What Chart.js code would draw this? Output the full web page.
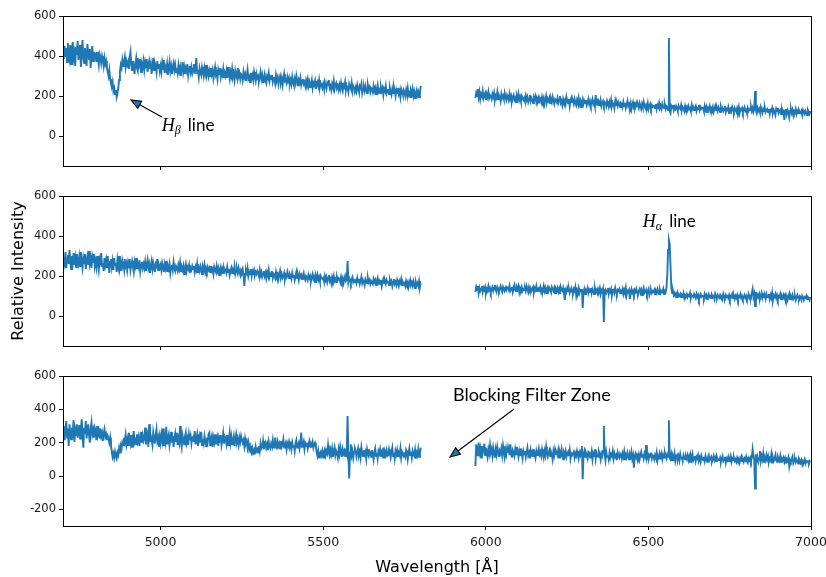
<!DOCTYPE html>
<html>
<head>
<meta charset="utf-8">
<script src="https://cdn.jsdelivr.net/npm/chart.js@4.4.1/dist/chart.umd.min.js"></script>
<style>
  body { margin: 0; background: #fff; }
  #wrap { position: relative; width: 826px; height: 577px; }
  canvas { position: absolute; left: 0; }
</style>
</head>
<body>
<div id="wrap">
  <canvas id="specTop" width="826" height="180" style="top:0"></canvas>
  <canvas id="specMid" width="826" height="180" style="top:180px"></canvas>
  <canvas id="specBot" width="826" height="217" style="top:360px"></canvas>
</div>
<script>
const LINE_CLR = '#1f77b4';

// wavelength sampling of the two spectrograph segments (blue arm / red arm), one row = 50 Å
const BLUE_START = 4700, RED_START = 5968, STEP = 2.5;
const X_TICKS = [5000, 5500, 6000, 6500, 7000];
const Y_TICKS = [0, 200, 400, 600];
const Y_TICKS_BOT = [-200, 0, 200, 400, 600];

// --- spectrum 1 ---
const TOP_BLUE = [
  425, 385, 450, 395, 440, 370, 465, 400, 380, 455, 360, 430, 470, 390, 415, 350, 445, 405, 475, 380,
  420, 455, 345, 410, 480, 390, 365, 440, 400, 350, 460, 415, 385, 435, 340, 405, 450, 375, 420, 395,
  405, 370, 420, 385, 355, 410, 395, 365, 400, 380, 350, 390, 360, 375, 340, 320, 300, 330, 285, 265,
  250, 270, 225, 240, 210, 230, 195, 215, 240, 280, 320, 355, 340, 380, 350, 370, 395, 345, 375, 355,
  370, 335, 395, 420, 350, 330, 375, 345, 310, 365, 390, 340, 325, 370, 355, 385, 320, 360, 345, 375,
  330, 365, 340, 385, 320, 355, 375, 335, 360, 310, 345, 390, 330, 365, 350, 320, 375, 340, 360, 325,
  350, 320, 365, 335, 380, 315, 345, 330, 360, 305, 340, 370, 325, 350, 310, 345, 365, 330, 355, 320,
  340, 315, 355, 325, 345, 300, 335, 370, 320, 345, 310, 340, 325, 360, 305, 335, 350, 320, 345, 315,
  335, 360, 310, 345, 390, 315, 330, 295, 340, 320, 305, 345, 325, 300, 340, 315, 355, 310, 330, 300,
  325, 300, 340, 310, 330, 290, 320, 345, 305, 315, 285, 330, 310, 340, 295, 320, 305, 335, 290, 315,
  300, 325, 290, 345, 310, 285, 320, 300, 335, 295, 310, 280, 325, 305, 290, 340, 300, 315, 285, 310,
  305, 280, 320, 295, 310, 275, 300, 330, 285, 295, 270, 315, 290, 305, 280, 320, 295, 275, 310, 290,
  300, 275, 295, 320, 285, 305, 270, 290, 310, 280, 265, 300, 290, 315, 275, 295, 285, 305, 270, 290,
  290, 265, 305, 280, 295, 260, 285, 300, 270, 290, 255, 285, 310, 275, 280, 265, 295, 275, 290, 260,
  280, 260, 295, 270, 255, 285, 265, 300, 275, 250, 280, 265, 290, 255, 275, 285, 260, 270, 250, 280,
  265, 285, 250, 270, 245, 260, 280, 240, 265, 255, 275, 235, 260, 270, 250, 280, 245, 265, 255, 240,
  260, 240, 270, 250, 235, 265, 255, 280, 240, 250, 230, 260, 245, 275, 235, 255, 265, 240, 250, 230,
  255, 235, 265, 240, 225, 255, 245, 270, 230, 250, 240, 220, 260, 245, 235, 265, 225, 250, 240, 230,
  245, 225, 255, 235, 220, 250, 240, 260, 215, 235, 245, 225, 250, 230, 215, 255, 235, 245, 220, 240,
  235, 220, 250, 225, 240, 210, 235, 255, 220, 230, 215, 245, 225, 240, 205, 235, 225, 250, 215, 230,
  230, 210, 240, 220, 205, 235, 215, 245, 225, 200, 230, 215, 240, 210, 225, 195, 235, 220, 205, 230,
  220, 200, 230, 210, 240, 205, 215, 195, 225, 210, 235, 200, 220, 190, 215, 230, 205, 220, 195, 215,
  250
];
const TOP_RED = [
  190, 215, 200, 235, 195, 220, 185, 210, 200, 225, 190, 205, 215, 180, 210, 195, 220, 190, 205, 200,
  185, 210, 195, 215, 180, 200, 190, 220, 185, 205, 195, 175, 210, 190, 200, 185, 215, 195, 180, 205,
  195, 180, 210, 185, 200, 175, 195, 205, 180, 190, 170, 200, 185, 210, 180, 195, 175, 200, 190, 180,
  190, 175, 200, 180, 195, 170, 185, 205, 175, 190, 180, 165, 195, 185, 200, 170, 190, 180, 195, 175,
  185, 170, 195, 175, 190, 160, 180, 200, 170, 185, 175, 190, 165, 185, 170, 195, 175, 160, 185, 180,
  170, 190, 165, 180, 200, 165, 175, 155, 185, 170, 180, 160, 195, 175, 165, 185, 150, 175, 190, 170,
  175, 160, 185, 170, 155, 180, 165, 190, 160, 175, 145, 170, 185, 160, 175, 165, 180, 155, 170, 185,
  160, 175, 155, 170, 185, 160, 170, 150, 205, 165, 175, 155, 170, 160, 180, 150, 165, 175, 155, 170,
  165, 150, 175, 160, 145, 170, 155, 180, 150, 165, 160, 140, 175, 155, 165, 150, 170, 160, 145, 165,
  160, 145, 170, 150, 165, 140, 155, 175, 150, 160, 145, 165, 135, 155, 170, 150, 160, 145, 165, 150,
  155, 140, 165, 150, 135, 160, 145, 170, 150, 140, 155, 145, 165, 135, 150, 160, 140, 155, 145, 150,
  150, 140, 160, 135, 155, 145, 165, 140, 150, 135, 160, 145, 140, 155, 135, 150, 145, 130, 490, 125,
  115, 150, 140, 155, 130, 145, 135, 150, 140, 125, 150, 140, 135, 155, 130, 145, 140, 125, 150, 135,
  145, 130, 150, 135, 140, 125, 155, 135, 145, 130, 140, 150, 125, 140, 135, 155, 130, 145, 135, 140,
  140, 125, 150, 130, 145, 120, 140, 135, 150, 125, 140, 130, 145, 120, 135, 150, 130, 140, 125, 145,
  135, 120, 145, 130, 140, 125, 135, 150, 120, 135, 130, 145, 115, 135, 140, 125, 145, 130, 120, 140,
  130, 120, 140, 125, 145, 115, 135, 130, 140, 120, 135, 145, 125, 130, 115, 140, 125, 135, 130, 145,
  125, 140, 120, 135, 225, 130, 115, 140, 125, 135, 120, 145, 130, 115, 135, 125, 140, 120, 130, 135,
  120, 135, 110, 130, 125, 140, 115, 130, 120, 105, 135, 125, 140, 115, 125, 130, 110, 135, 120, 125,
  80, 125, 135, 110, 130, 120, 95, 125, 135, 115, 130, 105, 125, 120, 135, 110, 125, 115, 130, 120,
  115, 125, 105, 130, 120, 110, 125, 115, 105, 130, 120, 110, 125
];

// --- spectrum 2 ---
const MID_BLUE = [
  250, 290, 265, 320, 240, 285, 305, 260, 330, 275, 235, 300, 270, 315, 255, 290, 245, 310, 280, 260,
  295, 250, 320, 270, 240, 290, 265, 310, 235, 280, 300, 255, 325, 265, 285, 240, 295, 270, 310, 250,
  275, 245, 300, 260, 230, 285, 270, 315, 250, 265, 225, 290, 255, 280, 240, 300, 260, 215, 270, 285,
  245, 275, 230, 290, 255, 265, 220, 280, 250, 300, 240, 260, 225, 275, 255, 235, 285, 250, 265, 230,
  265, 240, 285, 230, 255, 275, 245, 220, 270, 250, 290, 235, 260, 245, 280, 225, 255, 270, 240, 260,
  240, 270, 225, 255, 280, 240, 260, 215, 250, 275, 235, 265, 245, 220, 260, 250, 285, 230, 255, 240,
  255, 230, 265, 245, 220, 260, 240, 275, 225, 250, 235, 260, 215, 245, 255, 230, 270, 240, 225, 250,
  240, 225, 255, 235, 265, 220, 245, 230, 250, 210, 240, 260, 225, 245, 235, 255, 215, 240, 230, 250,
  235, 250, 220, 245, 230, 260, 215, 240, 225, 250, 235, 210, 245, 230, 255, 220, 240, 225, 245, 230,
  240, 220, 250, 225, 235, 210, 245, 230, 220, 250, 225, 240, 205, 230, 245, 220, 235, 215, 240, 225,
  230, 215, 245, 220, 235, 205, 225, 240, 215, 230, 220, 250, 210, 225, 235, 215, 240, 220, 205, 230,
  220, 235, 205, 150, 210, 230, 215, 240, 200, 220, 210, 235, 200, 225, 215, 230, 205, 220, 210, 225,
  215, 200, 230, 205, 220, 195, 210, 225, 200, 215, 190, 220, 205, 230, 195, 210, 200, 225, 190, 210,
  205, 190, 220, 200, 210, 185, 205, 225, 195, 210, 190, 200, 215, 185, 205, 195, 220, 200, 190, 210,
  200, 185, 215, 195, 205, 180, 200, 220, 190, 200, 180, 210, 195, 205, 185, 200, 215, 190, 180, 200,
  195, 180, 205, 190, 200, 175, 195, 210, 185, 195, 170, 200, 185, 205, 180, 195, 175, 200, 190, 185,
  190, 175, 200, 180, 195, 170, 190, 205, 175, 185, 165, 195, 180, 200, 175, 185, 170, 195, 180, 190,
  185, 170, 195, 175, 190, 165, 185, 200, 175, 180, 275, 170, 190, 180, 165, 185, 195, 170, 180, 175,
  180, 165, 190, 170, 185, 160, 175, 195, 165, 180, 170, 155, 185, 175, 165, 190, 170, 180, 160, 175,
  175, 160, 185, 170, 180, 155, 175, 190, 165, 175, 160, 180, 150, 170, 185, 165, 175, 160, 180, 170,
  170, 155, 180, 165, 175, 150, 170, 185, 160, 170, 155, 180, 165, 150, 175, 165, 185, 155, 170, 160,
  165, 150, 175, 160, 170, 145, 165, 180, 155, 165, 150, 175, 160, 140, 170, 155, 165, 150, 175, 145,
  165
];
const MID_RED = [
  120, 145, 130, 150, 115, 140, 125, 135, 150, 120, 140, 130, 145, 115, 135, 125, 150, 130, 140, 120,
  135, 145, 125, 140, 155, 130, 120, 145, 135, 125, 140, 150, 130, 120, 145, 135, 125, 140, 130, 145,
  140, 130, 150, 125, 135, 145, 120, 140, 155, 130, 125, 145, 135, 150, 120, 140, 130, 145, 125, 135,
  130, 140, 125, 150, 135, 120, 145, 130, 140, 125, 135, 145, 120, 140, 130, 150, 125, 135, 140, 130,
  145, 120, 135, 130, 150, 125, 140, 115, 135, 145, 125, 140, 130, 120, 145, 135, 125, 140, 115, 135,
  125, 140, 120, 135, 110, 145, 130, 125, 140, 115, 80, 130, 120, 140, 125, 135, 115, 130, 140, 120,
  115, 135, 125, 145, 105, 130, 120, 140, 115, 130, 125, 135, 40, 120, 135, 110, 130, 125, 140, 115,
  130, 120, 140, 115, 135, 125, 110, 140, 120, 130, 115, 135, 125, 140, 110, 130, 120, 135, -30, 120,
  130, 115, 125, 140, 110, 130, 120, 135, 105, 125, 130, 115, 140, 120, 110, 130, 125, 135, 115, 125,
  120, 135, 110, 130, 115, 140, 105, 125, 120, 130, 85, 120, 135, 115, 125, 110, 130, 120, 135, 115,
  110, 125, 135, 115, 130, 105, 125, 140, 115, 120, 130, 110, 125, 135, 105, 120, 130, 115, 125, 120,
  130, 110, 125, 115, 135, 120, 110, 130, 115, 125, 120, 135, 110, 125, 120, 140, 200, 330, 380, 360,
  250, 140, 115, 125, 105, 115, 100, 110, 95, 115, 105, 100, 110, 95, 105, 100, 115, 90, 105, 100,
  110, 95, 105, 100, 115, 90, 105, 100, 95, 110, 100, 90, 110, 95, 105, 85, 100, 110, 95, 100,
  100, 90, 110, 95, 105, 85, 100, 110, 95, 100, 90, 105, 95, 100, 85, 110, 95, 90, 105, 95,
  90, 105, 95, 100, 85, 110, 95, 90, 105, 95, 100, 90, 105, 85, 100, 95, 110, 90, 100, 85,
  100, 90, 105, 85, 100, 95, 110, 90, 100, 85, 95, 105, 90, 100, 85, 95, 110, 90, 100, 95,
  115, 135, 95, 110, 50, 120, 90, 105, 95, 110, 85, 100, 115, 90, 105, 95, 100, 85, 110, 95,
  95, 110, 85, 105, 90, 115, 80, 100, 95, 110, 90, 105, 85, 100, 95, 110, 85, 100, 90, 105,
  90, 105, 85, 100, 80, 95, 110, 85, 100, 90, 105, 85, 95, 100, 80, 95, 105, 90, 85, 100,
  95, 80, 100, 90, 85, 95, 90, 100, 85, 95, 90, 80, 95
];

// --- spectrum 3 ---
const BOT_BLUE = [
  240, 300, 215, 270, 330, 230, 285, 180, 310, 250, 220, 290, 265, 335, 205, 275, 245, 310, 230, 265,
  305, 225, 280, 340, 240, 170, 290, 255, 330, 225, 270, 310, 245, 200, 285, 320, 250, 275, 230, 290,
  275, 215, 300, 250, 270, 225, 285, 240, 260, 210, 255, 280, 235, 250, 215, 240, 225, 200, 230, 180,
  150, 115, 135, 110, 145, 120, 105, 140, 125, 165, 135, 180, 160, 200, 185, 230, 205, 245, 190, 220,
  185, 260, 220, 195, 245, 175, 230, 270, 200, 215, 190, 250, 210, 235, 180, 225, 265, 200, 240, 210,
  225, 290, 190, 235, 255, 175, 310, 205, 240, 215, 185, 260, 225, 195, 245, 280, 210, 230, 175, 235,
  200, 250, 215, 285, 180, 235, 205, 295, 195, 230, 250, 185, 220, 265, 200, 240, 175, 225, 255, 210,
  260, 185, 225, 200, 300, 210, 175, 245, 220, 190, 235, 260, 200, 225, 185, 250, 215, 240, 195, 230,
  235, 205, 270, 190, 225, 250, 180, 215, 240, 200, 265, 185, 220, 195, 240, 210, 180, 230, 205, 250,
  260, 185, 220, 240, 175, 230, 205, 250, 190, 215, 235, 180, 225, 200, 245, 185, 215, 255, 195, 220,
  230, 195, 245, 185, 220, 260, 200, 235, 190, 215, 240, 180, 225, 250, 200, 215, 185, 230, 205, 240,
  240, 200, 215, 180, 225, 195, 210, 170, 200, 160, 180, 145, 135, 165, 140, 155, 130, 175, 150, 160,
  140, 180, 150, 195, 165, 175, 210, 160, 185, 200, 170, 190, 155, 205, 175, 165, 195, 180, 215, 170,
  170, 230, 185, 160, 205, 180, 195, 165, 210, 175, 190, 220, 170, 185, 200, 160, 195, 180, 205, 175,
  190, 160, 200, 175, 185, 150, 195, 215, 170, 185, 200, 165, 190, 260, 175, 185, 205, 160, 195, 180,
  200, 165, 190, 210, 175, 195, 185, 205, 170, 190, 200, 180, 140, 120, 150, 110, 135, 145, 125, 150,
  110, 145, 160, 125, 150, 135, 185, 140, 120, 155, 130, 165, 115, 145, 170, 125, 150, 135, 110, 160,
  130, 175, 145, 115, 160, 135, 150, 120, 165, 140, 360, 130, -15, 140, 190, 125, 150, 110, 145, 165,
  150, 115, 140, 165, 125, 145, 110, 170, 135, 120, 155, 130, 145, 105, 160, 135, 120, 150, 140, 115,
  155, 130, 100, 145, 165, 120, 140, 105, 150, 135, 160, 115, 140, 125, 170, 110, 145, 130, 155, 120,
  125, 160, 135, 110, 145, 170, 120, 140, 105, 150, 130, 155, 115, 140, 125, 165, 110, 145, 135, 120,
  130, 115, 155, 140, 100, 135, 165, 125, 145, 110, 150, 130, 120, 155, 105, 140, 125, 160, 115, 135,
  170
];
const BOT_RED = [
  60, 190, 150, 120, 200, 140, 165, 110, 180, 135, 155, 195, 125, 170, 145, 115, 160, 135, 185, 140,
  155, 120, 170, 140, 110, 160, 130, 175, 145, 115, 150, 135, 165, 125, 180, 140, 110, 155, 130, 170,
  140, 165, 125, 190, 135, 110, 155, 140, 120, 160, 130, 175, 145, 115, 150, 125, 165, 135, 105, 150,
  130, 150, 115, 145, 170, 125, 140, 105, 155, 130, 145, 120, 160, 135, 110, 150, 125, 140, 165, 130,
  145, 120, 160, 135, 110, 150, 125, 175, 135, 115, 140, 155, 120, 145, 130, 100, 150, 125, 160, 135,
  140, 125, 155, 110, 145, 130, 160, 120, 100, 140, 125, 150, 115, 135, 145, 120, 155, 105, 135, 125,
  125, 145, 110, 135, 120, 150, 130, 105, 140, 125, 155, 180, -20, 130, 150, 115, 140, 125, 105, 145,
  140, 110, 125, 150, 100, 135, 120, 160, 105, 140, 125, 115, 145, 130, 100, 135, 120, 150, 300, 130,
  95, 145, 115, 125, 100, 140, 110, 130, 120, 150, 105, 135, 115, 125, 95, 140, 120, 110, 135, 125,
  105, 135, 115, 145, 95, 125, 110, 140, 120, 100, 130, 115, 145, 105, 125, 50, 120, 135, 110, 125,
  110, 130, 100, 125, 145, 115, 130, 105, 135, 120, 185, 110, 130, 100, 125, 115, 140, 105, 125, 120,
  100, 125, 110, 140, 95, 120, 105, 130, 115, 135, 100, 125, 110, 140, 120, 105, 130, 115, 335, 110,
  100, 130, 95, 120, 105, 135, 90, 115, 125, 100, 120, 95, 130, 105, 115, 90, 125, 110, 100, 120,
  105, 125, 95, 115, 85, 120, 100, 130, 95, 110, 120, 90, 115, 105, 125, 95, 110, 85, 120, 100,
  95, 115, 90, 120, 100, 85, 110, 125, 95, 105, 115, 85, 100, 120, 95, 110, 90, 115, 100, 95,
  95, 110, 85, 105, 120, 90, 100, 115, 80, 105, 95, 115, 90, 100, 120, 85, 105, 95, 110, 90,
  100, 85, 110, 95, 105, 80, 100, 115, 90, 100, 85, 105, 95, 115, 90, 80, 105, 95, 110, 90,
  110, 160, 120, 95, -75, 130, 95, 115, 85, 105, 150, 90, 120, 100, 135, 85, 110, 95, 125, 100,
  120, 85, 105, 95, 130, 80, 110, 90, 100, 125, 95, 85, 115, 100, 90, 120, 85, 105, 95, 110,
  85, 105, 75, 100, 90, 110, 60, 95, 85, 100, 115, 80, 95, 105, 85, 100, 90, 75, 105, 95,
  80, 95, 70, 90, 85, 100, 75, 90, 85, 95, 70, 90, 85
];

function toPoints(vals, start) {
  return vals.map((v, i) => ({ x: start + i * STEP, y: v }));
}

// closed axes frame (top + right spines too)
const boxPlugin = {
  id: 'box',
  afterDraw(chart) {
    const { ctx, chartArea: a } = chart;
    ctx.save();
    ctx.strokeStyle = '#000';
    ctx.lineWidth = 1;
    ctx.strokeRect(Math.round(a.left) + 0.5, Math.round(a.top) + 0.5,
      Math.round(a.right - a.left), Math.round(a.bottom - a.top));
    ctx.restore();
  }
};

function drawArrow(ctx, [x0, y0], [x1, y1]) {
  const ang = Math.atan2(y1 - y0, x1 - x0), len = 10, half = 4;
  const bx = x1 - len * Math.cos(ang), by = y1 - len * Math.sin(ang);
  ctx.save();
  ctx.strokeStyle = '#000';
  ctx.lineWidth = 1.1;
  ctx.beginPath(); ctx.moveTo(x0, y0); ctx.lineTo(bx, by); ctx.stroke();
  ctx.beginPath();
  ctx.moveTo(x1, y1);
  ctx.lineTo(bx + half * Math.sin(ang), by - half * Math.cos(ang));
  ctx.lineTo(bx - half * Math.sin(ang), by + half * Math.cos(ang));
  ctx.closePath();
  ctx.fillStyle = LINE_CLR;
  ctx.fill(); ctx.stroke();
  ctx.restore();
}

function drawLabel(ctx, [x, y], l) {
  ctx.save();
  ctx.fillStyle = '#000';
  ctx.textBaseline = 'middle';
  ctx.textAlign = 'left';
  if (l.sub) {
    ctx.font = 'italic 18px "Liberation Serif"';
    ctx.fillText('H', x, y);
    let w = ctx.measureText('H').width;
    ctx.font = 'italic 12px "Liberation Serif"';
    ctx.fillText(l.sub, x + w, y + 5);
    w += ctx.measureText(l.sub).width + 7;
    ctx.font = '17px Lato';
    ctx.fillText(l.text, x + w, y);
  } else {
    ctx.font = '18px Lato';
    ctx.fillText(l.text, x, y);
  }
  ctx.restore();
}

// text + arrow annotations, given in data coordinates
const notesPlugin = {
  id: 'notes',
  afterDatasetsDraw(chart, args, opts) {
    const xs = chart.scales.x, ys = chart.scales.y;
    const px = p => [xs.getPixelForValue(p[0]), ys.getPixelForValue(p[1])];
    (opts.arrows || []).forEach(a => drawArrow(chart.ctx, px(a.from), px(a.to)));
    (opts.labels || []).forEach(l => drawLabel(chart.ctx, px(l.at), l));
  }
};

function panel(id, blue, red, cfg) {
  const yTicks = cfg.yTicks || Y_TICKS;
  return new Chart(document.getElementById(id), {
    type: 'line',
    data: {
      datasets: [
        { data: toPoints(blue, BLUE_START), borderColor: LINE_CLR, borderWidth: 1.9 },
        { data: toPoints(red, RED_START), borderColor: LINE_CLR, borderWidth: 1.9 }
      ]
    },
    options: {
      responsive: false,
      animation: false,
      layout: { padding: { top: 16, right: 15, left: 0, bottom: 0 } },
      elements: { line: { tension: 0 }, point: { radius: 0 } },
      plugins: { legend: { display: false }, tooltip: { enabled: false }, notes: cfg.notes || {} },
      scales: {
        x: {
          type: 'linear', min: 4700, max: 7000,
          afterBuildTicks: s => { s.ticks = X_TICKS.map(v => ({ value: v })); },
          afterFit: s => { s.height = cfg.xHeight; s.paddingLeft = 0; s.paddingRight = 0; },
          grid: { drawOnChartArea: false, color: '#000', tickLength: 4 },
          border: { color: '#000' },
          ticks: {
            display: !!cfg.xLabels, autoSkip: false, maxRotation: 0,
            color: '#1a1a1a', font: { family: 'DejaVu Sans', size: 12.5 }, padding: 5,
            callback: v => String(v)
          },
          title: {
            display: !!cfg.xTitle, text: cfg.xTitle || '', color: '#000',
            font: { family: 'DejaVu Sans', size: 16 }, padding: { top: 0, bottom: 0 }
          }
        },
        y: {
          min: cfg.yMin, max: 600,
          afterBuildTicks: s => { s.ticks = yTicks.map(v => ({ value: v })); },
          afterFit: s => { s.width = 63; },
          grid: { drawOnChartArea: false, color: '#000', tickLength: 4 },
          border: { color: '#000' },
          ticks: {
            color: '#1a1a1a', font: { family: 'DejaVu Sans', size: 11.5 }, padding: 3,
            callback: v => String(v)
          },
          title: {
            display: !!cfg.yTitle, text: cfg.yTitle || '', color: '#000',
            font: { family: 'DejaVu Sans', size: 16 }, padding: { top: 9, bottom: 0 }
          }
        }
      }
    },
    plugins: [boxPlugin, notesPlugin]
  });
}

panel('specTop', TOP_BLUE, TOP_RED, {
  yMin: -150, xHeight: 14,
  notes: {
    arrows: [{ from: [5004, 95], to: [4909, 180] }],
    labels: [{ at: [5004, 50], sub: 'β', text: 'line' }]
  }
});

panel('specMid', MID_BLUE, MID_RED, {
  yMin: -150, xHeight: 14, yTitle: 'Relative Intensity',
  notes: { labels: [{ at: [6483, 470], sub: 'α', text: 'line' }] }
});

panel('specBot', BOT_BLUE, BOT_RED, {
  yMin: -300, yTicks: Y_TICKS_BOT, xHeight: 51, xLabels: true, xTitle: 'Wavelength [Å]',
  notes: {
    arrows: [{ from: [6087, 402], to: [5890, 114] }],
    labels: [{ at: [5899, 486], text: 'Blocking Filter Zone' }]
  }
});
</script>
</body>
</html>
